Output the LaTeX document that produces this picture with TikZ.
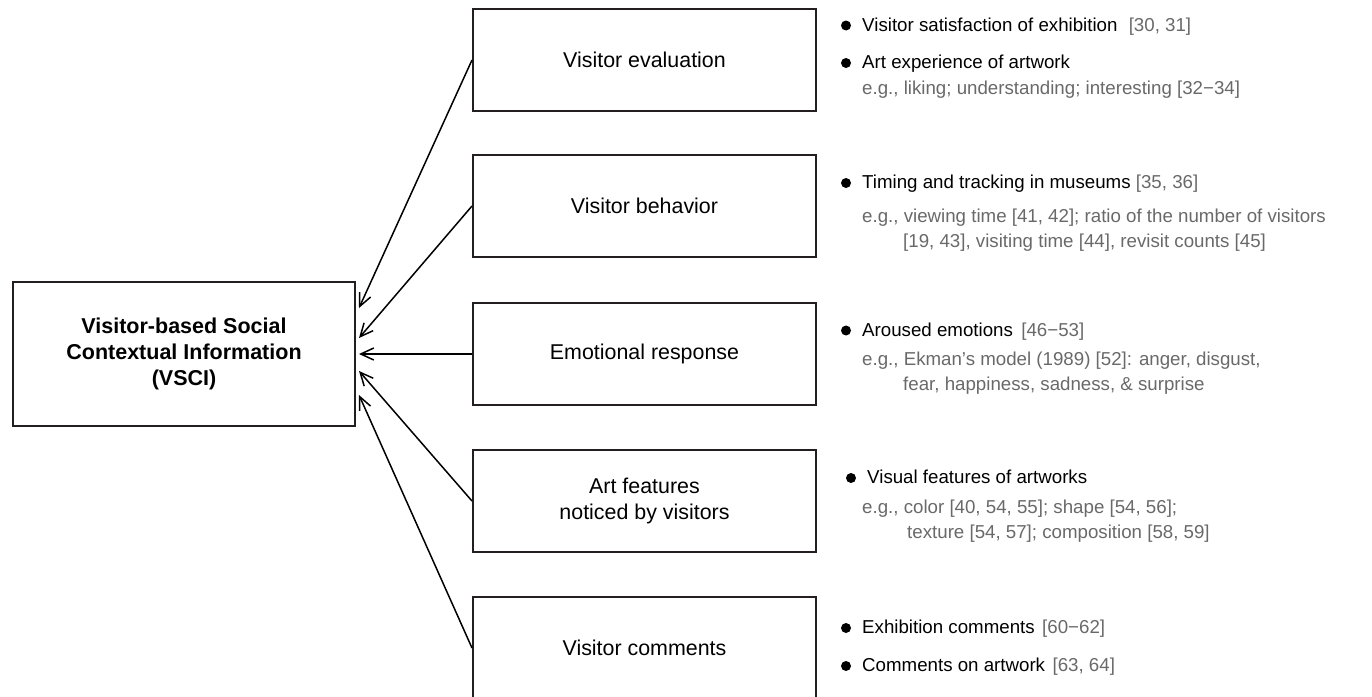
\documentclass[tikz,border=0pt]{standalone}
\usepackage{fontspec}
\setmainfont{Liberation Sans}
\usetikzlibrary{arrows.meta,calc}
\definecolor{refgray}{RGB}{105,105,105}
\definecolor{inkline}{RGB}{35,31,32}
\begin{document}
\begin{tikzpicture}[x=1pt,y=-1pt,
  box/.style={draw=inkline,line width=2pt,minimum width=343pt,minimum height=102pt,
    inner sep=0pt,align=center,font=\fontsize{21.4}{25.7}\selectfont},
  mainbox/.style={draw=inkline,line width=2pt,minimum width=342pt,minimum height=144pt,
    inner sep=0pt,align=center,font=\fontsize{21.5}{25.7}\selectfont\bfseries},
  arr/.style={draw=black,line width=1.5pt,
    -{Straight Barb[length=13pt,width=12pt,line width=1.5pt]}},
  dot/.style={circle,fill=black,inner sep=0pt,minimum size=10pt},
  txt/.style={anchor=base west,inner sep=0pt,font=\fontsize{18.7}{22}\selectfont},
  gtxt/.style={txt,text=refgray},
]
\useasboundingbox (0,0) rectangle (1372,696);

% central box
\node[mainbox] (vsci) at (184,354)
  {Visitor-based Social\\Contextual Information\\(VSCI)};

% five source boxes
\node[box] (eval) at (644.5,60)  {Visitor evaluation};
\node[box] (behav) at (644.5,206) {Visitor behavior};
\node[box] (emot) at (644.5,354) {Emotional response};
\node[box] (feat) at (644.5,501) {Art features\\noticed by visitors};
\node[box] (comm) at (644.5,648) {Visitor comments};

% connectors into the central box
\draw[arr] (eval.west)  -- ($(vsci.east)+(3,-46)$);
\draw[arr] (behav.west) -- ($(vsci.east)+(3,-16)$);
\draw[arr] (emot.west)  -- ($(vsci.east)+(3,0)$);
\draw[arr] (feat.west)  -- ($(vsci.east)+(3,17)$);
\draw[arr] (comm.west)  -- ($(vsci.east)+(3,41)$);

% notes: visitor evaluation
\node[dot] (d1a) at (846,25.5) {};
\node[txt] (n1a) at (862,31) {Visitor satisfaction of exhibition\hspace{0.6em}\textcolor{refgray}{[30, 31]}};
\node[dot] (d1b) at (846,63) {};
\node[txt] (n1b) at (862,68.5) {Art experience of artwork};
\node[gtxt] (n1c) at (862,94) {e.g., liking; understanding; interesting [32−34]};

% notes: visitor behavior
\node[dot] (d2a) at (846,183) {};
\node[txt] (n2a) at (862,188.5) {Timing and tracking in museums \textcolor{refgray}{[35, 36]}};
\node[gtxt] (n2b) at (862,222) {e.g., viewing time [41, 42]; ratio of the number of visitors};
\node[gtxt] (n2c) at (903,247) {[19, 43], visiting time [44], revisit counts [45]};

% notes: emotional response
\node[dot] (d3a) at (846,330.5) {};
\node[txt] (n3a) at (862,336) {Aroused emotions\hspace{0.45em}\textcolor{refgray}{[46−53]}};
\node[gtxt] (n3b) at (862,365) {e.g., Ekman’s model (1989) [52]: anger, disgust,};
\node[gtxt] (n3c) at (903,390) {fear, happiness, sadness, \& surprise};

% notes: art features
\node[dot] (d4a) at (851,478) {};
\node[txt] (n4a) at (867,483.5) {Visual features of artworks};
\node[gtxt] (n4b) at (862,513) {e.g., color [40, 54, 55]; shape [54, 56];};
\node[gtxt] (n4c) at (907,538) {texture [54, 57]; composition [58, 59]};

% notes: visitor comments
\node[dot] (d5a) at (846,628) {};
\node[txt] (n5a) at (862,633.5) {Exhibition comments\hspace{0.4em}\textcolor{refgray}{[60−62]}};
\node[dot] (d5b) at (846,666) {};
\node[txt] (n5b) at (862,671.5) {Comments on artwork\hspace{0.4em}\textcolor{refgray}{[63, 64]}};
\end{tikzpicture}
\end{document}
